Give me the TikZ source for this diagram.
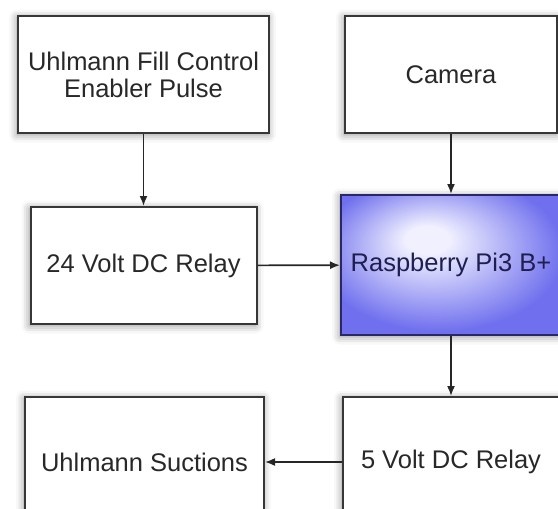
\documentclass[tikz,border=0pt]{standalone}
\usepackage{fontspec}
\setmainfont{Liberation Sans}
\usepackage{tikz}
\usetikzlibrary{positioning,arrows.meta,shadows.blur}
\definecolor{boxline}{RGB}{55,55,55}
\definecolor{textgray}{RGB}{40,40,40}
\definecolor{piblue}{RGB}{112,112,238}
\definecolor{pilight}{RGB}{240,240,255}
\definecolor{piline}{RGB}{40,40,105}
\definecolor{pitext}{RGB}{30,30,80}
\pgfdeclareradialshading{piglow}{\pgfpoint{-6bp}{10bp}}{color(0bp)=(pilight); color(5bp)=(pilight); color(28bp)=(piblue); color(50bp)=(piblue)}
\tikzstyle{block} = [rectangle, draw=boxline, line width=2pt, fill=white, text=textgray,
                     font=\fontsize{25.5}{27}\selectfont, align=center,
                     blur shadow={shadow xshift=-1pt, shadow yshift=-1.5pt, shadow blur radius=8pt, shadow opacity=45}]
\tikzstyle{arrow} = [line width=1.6pt, draw=black!85, -{Latex[length=10pt,width=8pt]}]
\begin{document}
\begin{tikzpicture}[node distance=60pt]
\useasboundingbox (0,0) rectangle (558pt,-509pt);

            % Nodes
            \node (fill) [block, minimum width=251pt, minimum height=117pt] at (143.5pt,-74.5pt) {Uhlmann Fill Control\\Enabler Pulse};
            \node (camera) [block, minimum width=212pt, minimum height=117pt, right=74pt of fill] {Camera};

            \node (relay24) [block, minimum width=226pt, minimum height=117pt, below=72pt of fill] {24 Volt DC Relay};
            \node (pi) [block, minimum width=220pt, minimum height=140pt, below=of camera, draw=piline, text=pitext, shade, shading=piglow] {Raspberry Pi3 B+};

            \node (relay5) [block, minimum width=216pt, minimum height=130pt, below=of pi] {5 Volt DC Relay};
            \node (suction) [block, minimum width=239pt, minimum height=130pt, left=77pt of relay5] {Uhlmann Suctions};

            % Arrows
            \draw [arrow] (fill) -- (relay24);
            \draw [arrow] (camera) -- (pi);
            \draw [arrow] (relay24) -- (pi);
            \draw [arrow] (pi) -- (relay5);
            \draw [arrow] (relay5) -- (suction);
\end{tikzpicture}
\end{document}
